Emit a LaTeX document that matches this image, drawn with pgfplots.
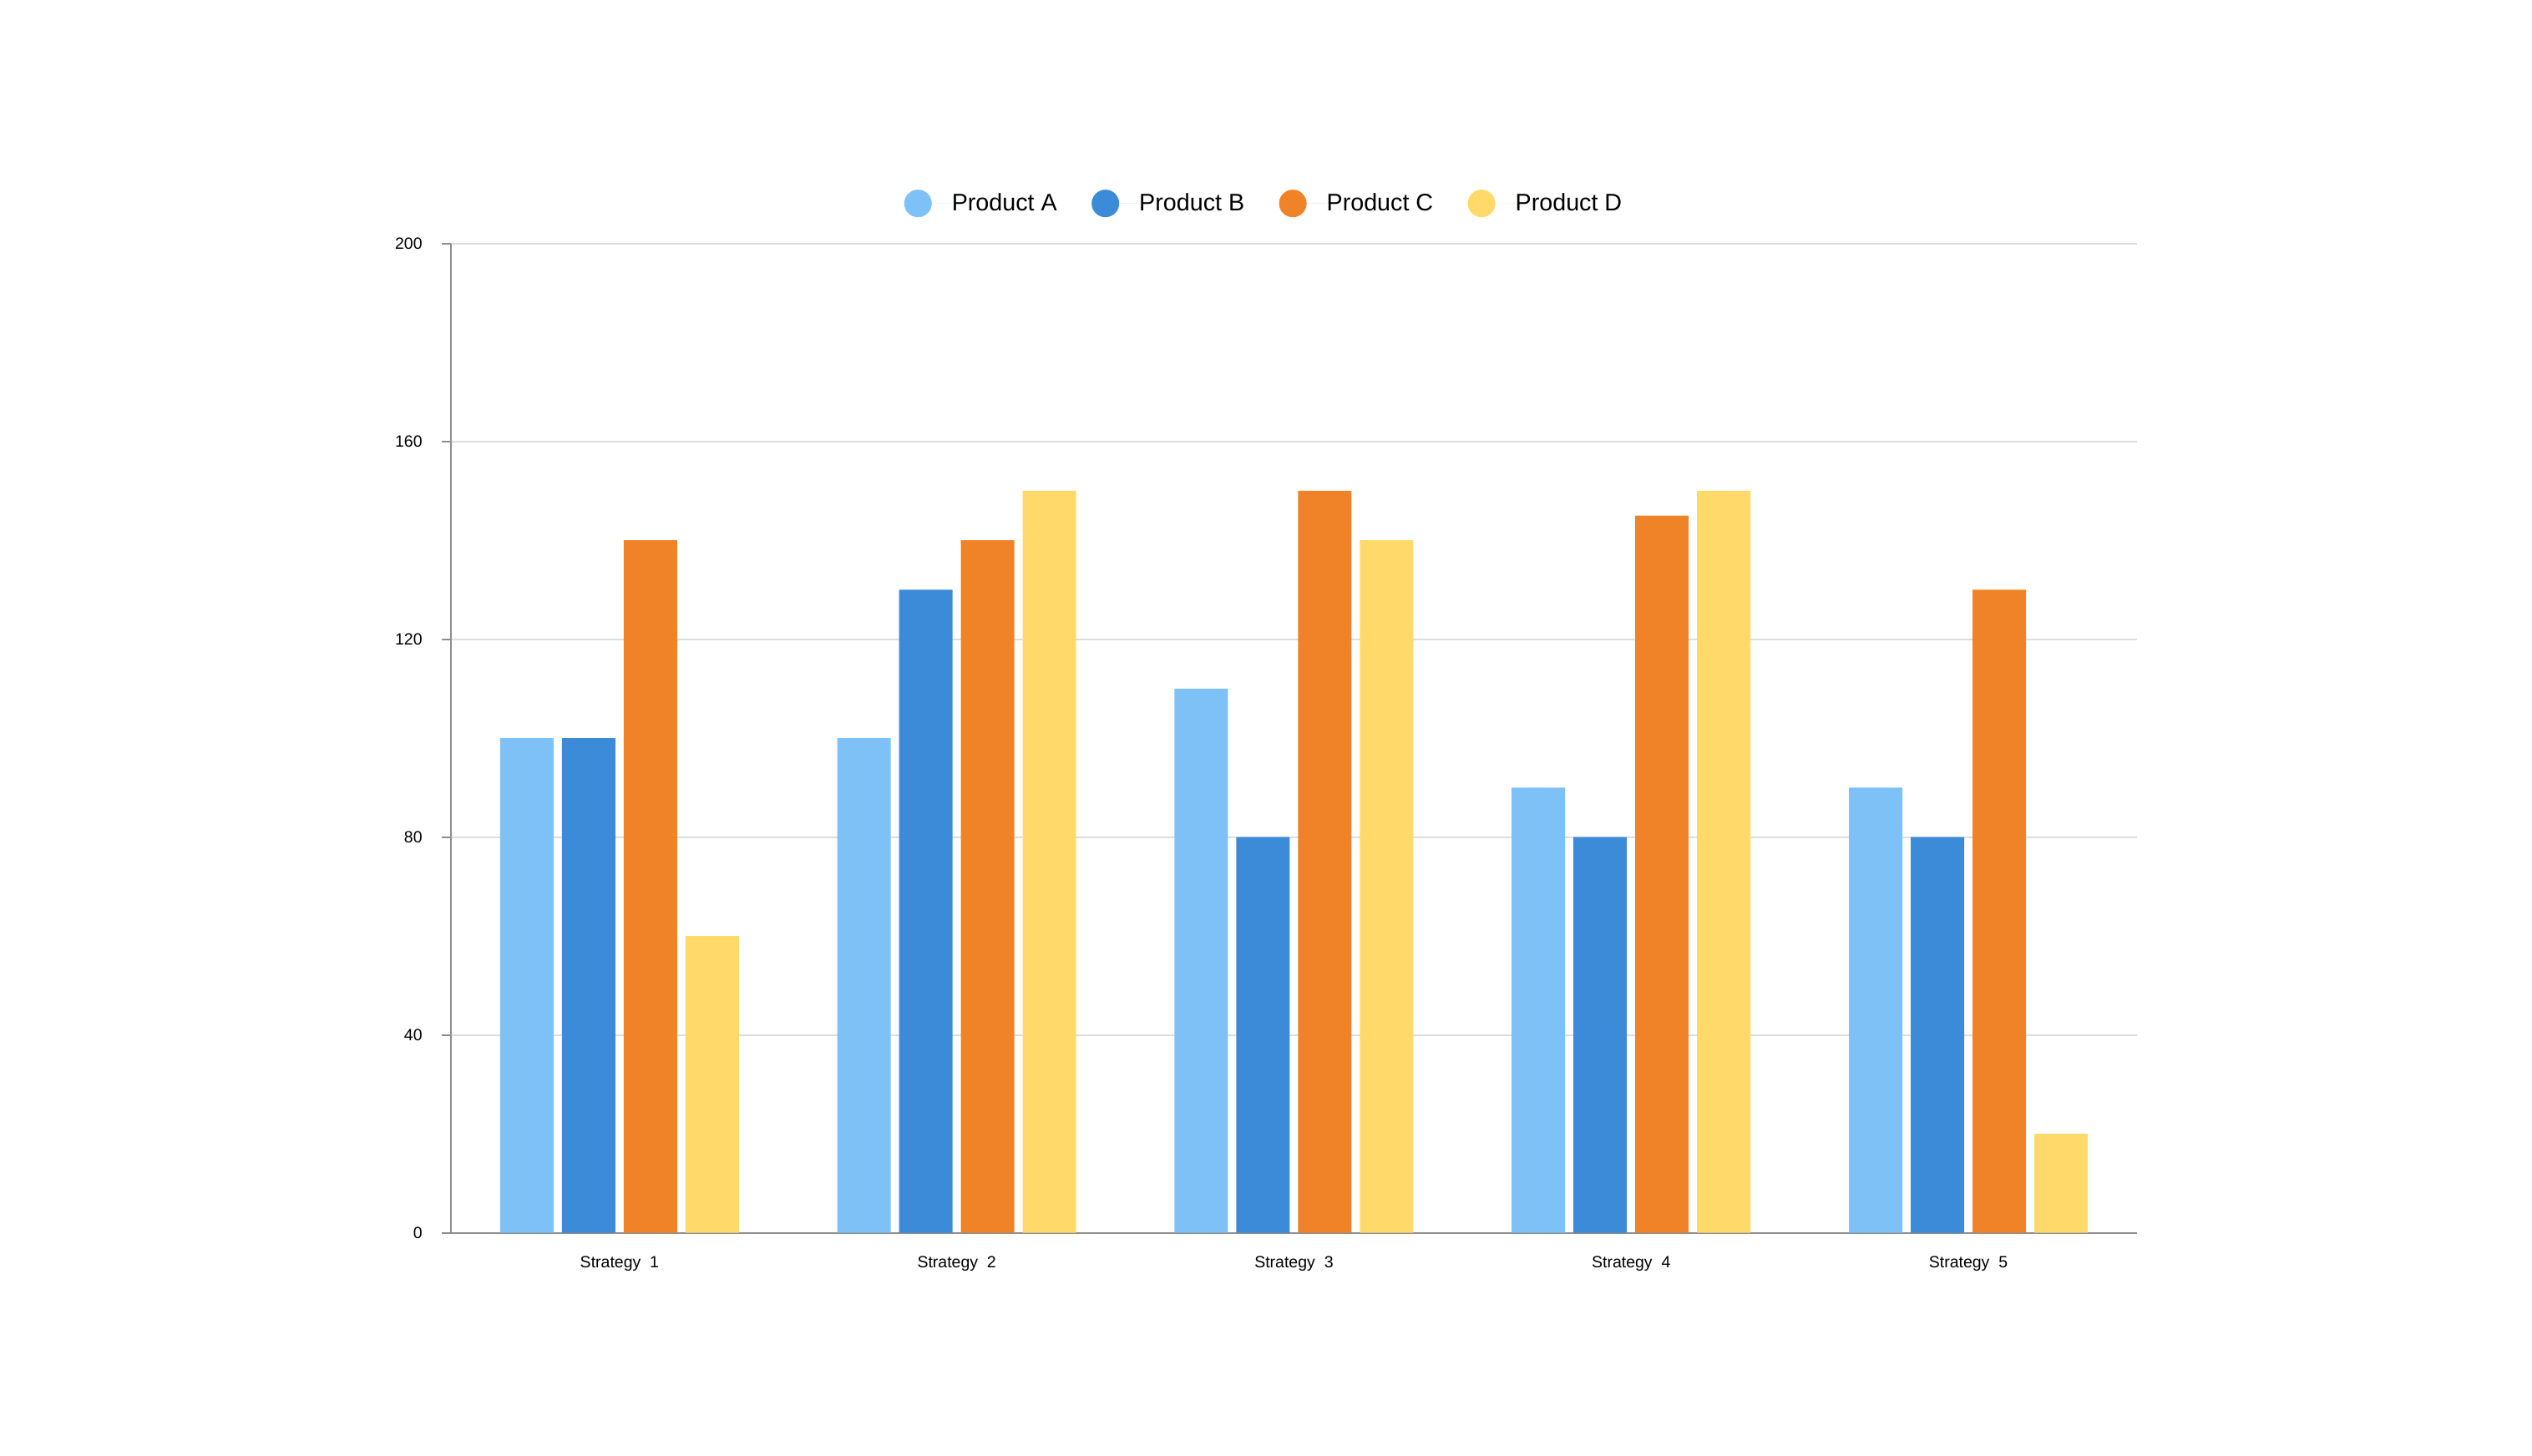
\documentclass[border=0pt]{standalone}
\usepackage{pgfplots}
\pgfplotsset{compat=1.18}
\usepackage{fontspec}
\setmainfont{Liberation Sans}

\definecolor{prodA}{HTML}{7DC1F7}
\definecolor{prodB}{HTML}{3C8BD9}
\definecolor{prodC}{HTML}{F08328}
\definecolor{prodD}{HTML}{FFDA6B}
\definecolor{axisgray}{HTML}{8E8E8E}
\definecolor{gridgray}{HTML}{DDDDDD}

\pgfplotsset{
  dot legend/.style={
    legend image code/.code={
      \fill[##1,draw=none] (8.25pt,0pt) circle (8.25pt);
      \path (0pt,0pt) -- (28.5pt,0pt);
    }
  }
}

\begin{document}
\begin{tikzpicture}
\useasboundingbox (0,0) rectangle (1516pt,872pt);
\begin{axis}[
  at={(270pt,133.65pt)}, anchor=south west,
  scale only axis, width=1009.5pt, height=592.5pt,
  ybar=5pt, bar width=32pt,
  xmin=-0.5, xmax=4.5, ymin=0, ymax=200,
  xtick={0,1,2,3,4},
  xticklabels={Strategy\ \ 1,Strategy\ \ 2,Strategy\ \ 3,Strategy\ \ 4,Strategy\ \ 5},
  ytick={0,40,80,120,160,200},
  axis x line*=bottom, axis y line*=left,
  axis line style={axisgray, line width=1pt, -},
  ymajorgrids, grid style={gridgray, line width=1pt},
  tick align=outside, major tick length=5.5pt,
  xtick style={draw=none},
  ytick style={axisgray, line width=1pt},
  /pgf/number format/assume math mode=true,
  tick label style={font=\fontsize{9.75}{11}\selectfont, text=black},
  yticklabel style={anchor=east, inner sep=0pt, xshift=-11.5pt},
  xticklabel style={anchor=north, inner sep=0pt, yshift=-8.3pt},
  legend style={at={(0.4817,1.0405)}, anchor=center, draw=none, fill=none,
    inner sep=0pt, outer sep=0pt, legend columns=4,
    font=\fontsize{14.35}{17}\selectfont,
    nodes={inner sep=0pt},
    /tikz/every even column/.append style={column sep=20.7pt}},
]
\addplot[fill=prodA, draw=none, dot legend] coordinates {(0,100) (1,100) (2,110) (3,90) (4,90)};
\addplot[fill=prodB, draw=none, dot legend] coordinates {(0,100) (1,130) (2,80) (3,80) (4,80)};
\addplot[fill=prodC, draw=none, dot legend] coordinates {(0,140) (1,140) (2,150) (3,145) (4,130)};
\addplot[fill=prodD, draw=none, dot legend] coordinates {(0,60) (1,150) (2,140) (3,150) (4,20)};
\legend{Product A,Product B,Product C,Product D}
\end{axis}
\end{tikzpicture}
\end{document}
